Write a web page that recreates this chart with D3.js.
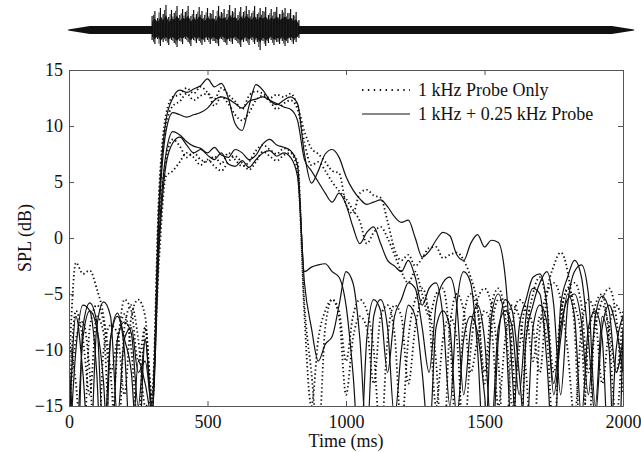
<!DOCTYPE html>
<html>
<head>
<meta charset="utf-8">
<script src="https://cdn.jsdelivr.net/npm/d3@7"></script>
<style>
  body { margin: 0; background: #fff; }
  svg text { font-family: "Liberation Serif", "Times New Roman", serif; fill: #111; }
</style>
</head>
<body>
<div id="chart"></div>
<script>
// time axis (ms), one sample every 25 ms
var times = [0, 25, 50, 75, 100, 125, 150, 175, 200, 225, 250, 275,
    300, 325, 350, 375, 400, 425, 450, 475, 500, 525, 550, 575, 600, 625, 650, 675, 700, 725, 750, 775, 800, 825,
    850, 875, 900, 925, 950, 975, 1000, 1025, 1050, 1075,
    1100, 1125, 1150, 1175, 1200, 1225, 1250, 1275, 1300, 1325,
    1350, 1375, 1400, 1425, 1450, 1475, 1500, 1525, 1550, 1575,
    1600, 1625, 1650, 1675, 1700, 1725, 1750, 1775, 1800, 1825,
    1850, 1875, 1900, 1925, 1950, 1975, 2000];

// SPL (dB), 1 kHz + 0.25 kHz probe (solid)
var highBoth1 = [-20, -10, -6, -6.5, -12, -25, -9, -7, -10, -20, -11, -13,
    -16, 3, 10.5, 12.5, 13.2, 13.0, 13.3, 13.6, 14.2, 13.5, 13.8, 12.5, 10.2, 9.6, 11.8, 13.7, 13.2, 12.3, 11.9, 12.3, 12.6, 12.0,
    7.5, 4.9, 6.0, 7.5, 7.9, 7.2, 5.5, 4.3, 3.5, 3.0,
    3.2, 3.4, 2.8, 1.9, 1.4, 1.6, 0.0, -1.7, -1.2, -0.2,
    0.5, 0.2, -1.5, -2.0, -0.5, 0.3, -0.8, -0.2, -0.4, -3.5,
    -12, -22, -9, -6, -4, -3, -6, -14, -6, -3,
    -2.4, -5, -15, -7, -10, -25, -8];
var highBoth2 = [-14, -25, -8, -5.8, -7.5, -18, -9, -6.7, -9, -12, -20, -9,
    -15, 2, 9.5, 11.2, 11.0, 10.8, 11.0, 11.2, 11.6, 12.3, 12.6, 12.4, 12.0, 11.6, 12.2, 12.4, 12.6, 12.3, 12.0, 11.7, 11.5, 10.5,
    7.0, 6.0, 5.0, 4.0, 3.2, 4.0, 3.0, 1.0, -0.5, 0.5,
    1.0, -0.5, -2.0, -2.5, -3.0, -2.0, -3.5, -6, -4.5, -4,
    -7, -15, -6, -3, -4, -10, -20, -7, -5, -8,
    -18, -8, -5.5, -3.5, -3.2, -6, -14, -9, -5, -7,
    -16, -8, -6.5, -9, -20, -10, -7];
var lowBoth1 = [-18, -7, -12, -20, -8, -5.7, -7, -16, -9, -8, -12, -11,
    -15, 0, 7.5, 9.5, 9.2, 8.6, 8.2, 8.0, 7.6, 8.1, 7.4, 7.2, 7.9, 7.6, 7.0, 7.4, 8.4, 8.8, 8.3, 8.1, 7.8, 6.5,
    -3.0, -2.6, -2.4, -2.3, -3.0, -3.5, -6, -12, -20, -9,
    -5.5, -6.5, -12, -7, -5.5, -4.0, -4.5, -8, -12, -6,
    -4, -3.5, -6, -14, -8, -6, -9, -17, -8, -6.5,
    -8, -14, -7, -4.5, -5, -11, -20, -6, -3.5, -2.0,
    -3.5, -9, -16, -8, -6, -8, -12];
var lowBoth2 = [-11, -18, -9, -6.5, -8, -13, -24, -9, -7.5, -8.5, -15, -9,
    -16, -1, 6.5, 8.5, 9.0, 8.3, 7.6, 7.9, 7.4, 7.0, 7.6, 6.6, 6.4, 6.9, 6.3, 7.0, 7.6, 7.8, 7.3, 7.6, 7.2, 5.5,
    -4.0, -8, -11, -9.5, -8.8, -6, -3.0, -4, -9, -18,
    -7, -5.5, -8, -16, -10, -6, -7, -12, -18, -8,
    -6.5, -8, -16, -9, -7, -8.5, -14, -20, -9, -5.5,
    -6.5, -12, -18, -8, -6.0, -7.5, -13, -8, -5.5, -5,
    -7.5, -14, -7, -5.2, -6.5, -12, -9];

// SPL (dB), 1 kHz probe only (dotted)
var highOnly1 = [-12, -2.2, -3.2, -2.9, -4.5, -7, -12, -20, -8, -6, -9, -15,
    -14, 4, 11, 12.6, 12.8, 13.4, 12.9, 13.5, 13.0, 12.4, 13.4, 12.8, 12.2, 11.5, 12.7, 13.1, 12.9, 12.5, 12.8, 12.6, 12.9, 11.8,
    9.5, 8.0, 7.5, 6.8, 6.0, 5.8, 3.0, 2.2, 4.0, 4.3,
    3.8, 3.6, 1.5, -1.0, -2.0, -1.5, -2.5, -1.8, -0.9, -0.8,
    -1.8, -1.5, -1.3, -2.0, -3.5, -6, -12, -6, -4.5, -7,
    -15, -10, -6, -8, -12, -5, -2.5, -1.3, -3, -8,
    -20, -9, -6, -5, -9, -16, -8];
var highOnly2 = [-16, -9, -7.5, -12, -22, -10, -7.8, -8.5, -14, -7, -5.5, -7,
    -15, 3.5, 10, 11.8, 12.2, 12.9, 12.3, 12.7, 12.9, 11.8, 12.6, 12.0, 11.0, 10.5, 11.2, 12.3, 12.7, 12.2, 11.5, 12.0, 12.3, 11.5,
    8.5, 6.5, 6.8, 6.0, 5.0, 4.2, 3.5, 2.5, 1.5, -0.5,
    0.5, 1.0, 0.0, -1.5, -3.0, -4.0, -3.0, -5.0, -7, -5,
    -4.5, -9, -18, -7, -5, -6.5, -13, -8, -5.5, -6,
    -10, -20, -9, -5, -3.5, -6, -12, -7, -4.5, -6,
    -9, -18, -7, -6, -8, -12, -6.5];
var lowOnly1 = [-15, -6.5, -9, -14, -7, -8.5, -18, -10, -5.5, -6.5, -11, -8,
    -14, -2, 5.5, 6.0, 6.8, 7.6, 7.2, 6.5, 7.0, 6.4, 6.0, 6.8, 7.3, 6.7, 6.1, 6.8, 7.7, 7.3, 6.9, 7.4, 7.6, 6.0,
    -6, -12, -18, -8, -5.5, -6.5, -11, -7, -5.5, -6.5,
    -10, -18, -9, -6.0, -7, -13, -8, -5.5, -6.5, -11,
    -20, -8, -5, -6.5, -12, -9, -6.5, -8, -15, -9,
    -6, -7, -12, -20, -8, -5, -4, -5.5, -10, -16,
    -8, -5.5, -7, -13, -8, -6, -7.5];
var lowOnly2 = [-9, -13, -20, -8, -6, -7.5, -12, -9, -6.8, -10, -17, -8,
    -15, 1, 7, 8.8, 8.2, 7.2, 7.6, 7.0, 6.8, 7.3, 6.6, 7.6, 7.0, 6.4, 6.8, 7.8, 8.3, 7.9, 7.5, 8.0, 7.7, 6.8,
    -7, -15, -9, -6.5, -5.5, -7, -14, -9, -7, -8,
    -13, -7, -6, -8.5, -17, -9, -5.5, -4.5, -7, -15,
    -9, -7, -9, -18, -10, -5.5, -4.5, -6, -11, -20,
    -8, -5.5, -6.5, -11, -7, -9, -18, -7, -4.5, -4.0,
    -6, -12, -8, -5.5, -4.5, -7, -14];

var yTicks = [-15, -10, -5, 0, 5, 10, 15];
var xTicks = [0, 500, 1000, 1500, 2000];
var legendLabels = ["1 kHz Probe Only", "1 kHz + 0.25 kHz Probe"];

// stimulus waveform sketch above the plot
var envTimes = [-3, 75, 1960, 2040];
var envHalf = [0.5, 4, 4, 0.5];
var burstTimes = [300, 310, 320, 330, 340, 350, 360, 370, 380, 390, 400, 410, 420, 430, 440, 450, 460, 470,
    480, 490, 500, 510, 520, 530, 540, 550, 560, 570, 580, 590, 600, 610, 620, 630, 640, 650,
    660, 670, 680, 690, 700, 710, 720, 730, 740, 750, 760, 770, 780, 790, 800, 810, 820, 830];
var burstUpper = [14, 19, 12, 22, 16, 25, 13, 20, 17, 24, 15, 21, 18, 24, 14, 20, 16, 23,
    19, 15, 22, 17, 20, 14, 24, 18, 21, 16, 25, 19, 22, 15, 23, 18, 24, 20,
    17, 24, 16, 22, 19, 23, 15, 21, 18, 23, 16, 20, 22, 17, 21, 15, 18, 10];
var burstLower = [-10, -14, -9, -16, -12, -11, -15, -10, -13, -17, -11, -14, -9, -12, -16, -10, -13, -11,
    -15, -12, -10, -14, -11, -13, -16, -9, -12, -15, -11, -14, -10, -13, -17, -12, -11, -15,
    -10, -14, -12, -20, -11, -16, -13, -10, -15, -12, -14, -11, -16, -13, -10, -14, -12, -8];

document.addEventListener("DOMContentLoaded", function() {
    var w = 641, h = 452;
    var left = 69, right = 623, top = 70, bottom = 406;
    var fontSize = "18px";

    var svg = d3.select("#chart").append("svg")
        .attr("width", w)
        .attr("height", h);

    var x = d3.scaleLinear().domain([0, 2000]).range([left, right]);
    var y = d3.scaleLinear().domain([-15, 15]).range([bottom, top]);
    var waveY = d3.scaleLinear().domain([-30, 30]).range([60, 0]);

    // waveform: envelope bar + noise burst
    var env = envTimes.map(function(t, i) { return { t: t, a: envHalf[i] }; });
    svg.append("path")
        .attr("d", d3.area()
            .x(function(d) { return x(d.t); })
            .y0(function(d) { return waveY(-d.a); })
            .y1(function(d) { return waveY(d.a); })(env))
        .attr("fill", "#111");

    var burst = burstTimes.map(function(t, i) { return { t: t, hi: burstUpper[i], lo: burstLower[i] }; });
    svg.append("path")
        .attr("d", d3.area()
            .x(function(d) { return x(d.t); })
            .y0(function(d) { return waveY(d.lo * 0.65); })
            .y1(function(d) { return waveY(d.hi * 0.6); })(burst))
        .attr("fill", "#111");
    svg.selectAll("line.spike")
        .data(burst)
        .enter()
        .append("line")
        .attr("class", "spike")
        .attr("x1", function(d) { return x(d.t); })
        .attr("x2", function(d) { return x(d.t); })
        .attr("y1", function(d) { return waveY(d.lo); })
        .attr("y2", function(d) { return waveY(d.hi); })
        .attr("stroke", "#111")
        .attr("stroke-width", 1.2);
    svg.selectAll("line.spike2")
        .data(burst.slice(1))
        .enter()
        .append("line")
        .attr("class", "spike2")
        .attr("x1", function(d) { return x(d.t - 5); })
        .attr("x2", function(d) { return x(d.t - 5); })
        .attr("y1", function(d) { return waveY(d.lo * 0.85); })
        .attr("y2", function(d) { return waveY(d.hi * 0.8); })
        .attr("stroke", "#222")
        .attr("stroke-width", 0.9);

    // curves
    svg.append("clipPath").attr("id", "plotclip")
        .append("rect")
        .attr("x", left).attr("y", top)
        .attr("width", right - left).attr("height", bottom - top);

    var series = [
        { values: highOnly1, dotted: true },
        { values: highOnly2, dotted: true },
        { values: lowOnly1, dotted: true },
        { values: lowOnly2, dotted: true },
        { values: highBoth1, dotted: false },
        { values: highBoth2, dotted: false },
        { values: lowBoth1, dotted: false },
        { values: lowBoth2, dotted: false }
    ];

    var line = d3.line()
        .x(function(d, i) { return x(times[i]); })
        .y(function(d) { return y(d); })
        .curve(d3.curveMonotoneX);

    svg.append("g")
        .attr("clip-path", "url(#plotclip)")
        .selectAll("path")
        .data(series)
        .enter()
        .append("path")
        .attr("d", function(d) { return line(d.values); })
        .attr("fill", "none")
        .attr("stroke", "#111")
        .attr("stroke-width", function(d) { return d.dotted ? 1.8 : 1.2; })
        .attr("stroke-dasharray", function(d) { return d.dotted ? "1.4,2.6" : null; });

    // axes box, ticks inward
    var axisBottom = d3.axisBottom(x).tickValues(xTicks).tickFormat(d3.format("d"))
        .tickSizeInner(-5).tickSizeOuter(0).tickPadding(9);
    var axisTop = d3.axisTop(x).tickValues(xTicks).tickSizeInner(-5).tickSizeOuter(0).tickFormat("");
    var axisLeft = d3.axisLeft(y).tickValues(yTicks)
        .tickSizeInner(-5).tickSizeOuter(0).tickPadding(6);
    var axisRight = d3.axisRight(y).tickValues(yTicks).tickSizeInner(-5).tickSizeOuter(0).tickFormat("");

    svg.append("g").attr("transform", "translate(0," + bottom + ")").call(axisBottom);
    svg.append("g").attr("transform", "translate(0," + top + ")").call(axisTop);
    svg.append("g").attr("transform", "translate(" + left + ",0)").call(axisLeft);
    svg.append("g").attr("transform", "translate(" + right + ",0)").call(axisRight);

    svg.selectAll(".domain, .tick line").attr("stroke", "#555");
    svg.selectAll(".tick text")
        .style("font-family", "'Liberation Serif', serif")
        .style("font-size", fontSize)
        .attr("fill", "#111");

    svg.append("text")
        .attr("x", (left + right) / 2)
        .attr("y", 447)
        .attr("text-anchor", "middle")
        .style("font-size", fontSize)
        .text("Time (ms)");

    svg.append("text")
        .attr("transform", "translate(31," + ((top + bottom) / 2) + ") rotate(-90)")
        .attr("text-anchor", "middle")
        .style("font-size", fontSize)
        .text("SPL (dB)");

    // legend
    var legend = svg.append("g");
    legendLabels.forEach(function(label, i) {
        var ly = 90 + i * 24;
        legend.append("line")
            .attr("x1", 362).attr("x2", 410)
            .attr("y1", ly).attr("y2", ly)
            .attr("stroke", "#111")
            .attr("stroke-width", i === 0 ? 1.8 : 1.2)
            .attr("stroke-dasharray", i === 0 ? "1.4,4.5" : null);
        legend.append("text")
            .attr("x", 418)
            .attr("y", ly + 6)
            .style("font-size", fontSize)
            .text(label);
    });
});
</script>
</body>
</html>
